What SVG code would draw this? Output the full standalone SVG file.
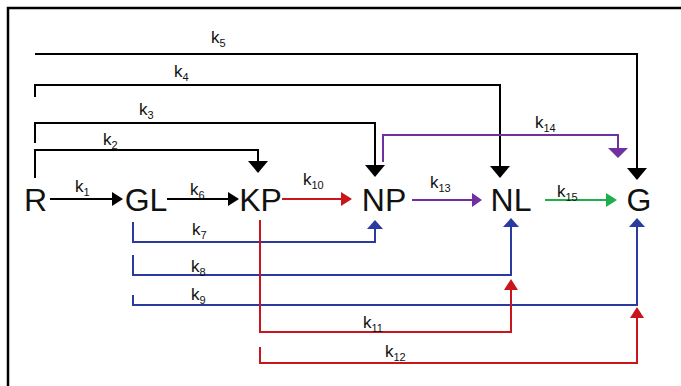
<svg xmlns="http://www.w3.org/2000/svg" width="681" height="386" viewBox="0 0 681 386">
<style>
.node{font-family:"Liberation Sans",Arial,sans-serif;font-size:32px;fill:#111;text-anchor:middle}
.lbl{font-family:"Liberation Sans",Arial,sans-serif;font-size:17px;fill:#111}
.sub{font-size:11px}
.c{fill:none;stroke-width:2}
.bk{stroke:#000}.rd{stroke:#c8161c}.bl{stroke:#2b3a9e}.pu{stroke:#7030a0}.gr{stroke:#1eae4e}
</style>
<defs>
<marker id="aBd" markerUnits="userSpaceOnUse" markerWidth="12" markerHeight="20" refX="8" refY="10" orient="auto"><path d="M0,0 L12,10 L0,20 z" fill="#000"/></marker>
<marker id="aBh" markerUnits="userSpaceOnUse" markerWidth="11" markerHeight="14" refX="7" refY="7" orient="auto"><path d="M0,0 L11,7 L0,14 z" fill="#000"/></marker>
<marker id="aR" markerUnits="userSpaceOnUse" markerWidth="11" markerHeight="14" refX="7" refY="7" orient="auto"><path d="M0,0 L11,7 L0,14 z" fill="#c8161c"/></marker>
<marker id="aBl" markerUnits="userSpaceOnUse" markerWidth="9" markerHeight="16" refX="5" refY="8" orient="auto"><path d="M0,0 L9,8 L0,16 z" fill="#2b3a9e"/></marker>
<marker id="aP" markerUnits="userSpaceOnUse" markerWidth="10" markerHeight="14" refX="6" refY="7" orient="auto"><path d="M0,0 L10,7 L0,14 z" fill="#7030a0"/></marker>
<marker id="aPd" markerUnits="userSpaceOnUse" markerWidth="10" markerHeight="20" refX="6" refY="10" orient="auto"><path d="M0,0 L10,10 L0,20 z" fill="#7030a0"/></marker>
<marker id="aG" markerUnits="userSpaceOnUse" markerWidth="11" markerHeight="14" refX="7" refY="7" orient="auto"><path d="M0,0 L11,7 L0,14 z" fill="#1eae4e"/></marker>
</defs>
<g id="frame"><path d="M8,386 V8 H681" fill="none" stroke="#000" stroke-width="2.5"/></g>
<g id="connectors">
<path class="c bk" d="M35,54 H637 V176" marker-end="url(#aBd)"/>
<path class="c bk" d="M35,97 V85 H500 V174" marker-end="url(#aBd)"/>
<path class="c bk" d="M35,143 V123 H375 V173" marker-end="url(#aBd)"/>
<path class="c bk" d="M35,178 V150 H258 V169" marker-end="url(#aBd)"/>
<path class="c bk" d="M50,199 H119" marker-end="url(#aBh)"/>
<path class="c bk" d="M167,199 H235" marker-end="url(#aBh)"/>
<path class="c rd" d="M282,199 H348" marker-end="url(#aR)"/>
<path class="c bl" d="M133,222 V242 H375 V224" marker-end="url(#aBl)"/>
<path class="c bl" d="M133,255 V275 H511 V222" marker-end="url(#aBl)"/>
<path class="c bl" d="M133,295 V305 H637 V222" marker-end="url(#aBl)"/>
<path class="c rd" d="M260,220 V332 H511 V283" marker-end="url(#aR)"/>
<path class="c rd" d="M260,347 V363 H637 V311" marker-end="url(#aR)"/>
<path class="c pu" d="M412,200 H478" marker-end="url(#aP)"/>
<path class="c pu" d="M383,162 V135 H618 V154" marker-end="url(#aPd)"/>
<path class="c gr" d="M545,200 H613" marker-end="url(#aG)"/>
</g>
<g id="labels">
<text class="lbl" x="211" y="43">k<tspan class="sub" dy="4">5</tspan></text>
<text class="lbl" x="174" y="77">k<tspan class="sub" dy="4">4</tspan></text>
<text class="lbl" x="139" y="115">k<tspan class="sub" dy="4">3</tspan></text>
<text class="lbl" x="103" y="145">k<tspan class="sub" dy="4">2</tspan></text>
<text class="lbl" x="75" y="192">k<tspan class="sub" dy="4">1</tspan></text>
<text class="lbl" x="190" y="195">k<tspan class="sub" dy="4">6</tspan></text>
<text class="lbl" x="192" y="235">k<tspan class="sub" dy="4">7</tspan></text>
<text class="lbl" x="191" y="272">k<tspan class="sub" dy="4">8</tspan></text>
<text class="lbl" x="191" y="300">k<tspan class="sub" dy="4">9</tspan></text>
<text class="lbl" x="303" y="185">k<tspan class="sub" dy="4">10</tspan></text>
<text class="lbl" x="363" y="328">k<tspan class="sub" dy="4">11</tspan></text>
<text class="lbl" x="385" y="357">k<tspan class="sub" dy="4">12</tspan></text>
<text class="lbl" x="430" y="188">k<tspan class="sub" dy="4">13</tspan></text>
<text class="lbl" x="535" y="128">k<tspan class="sub" dy="4">14</tspan></text>
<text class="lbl" x="557" y="197">k<tspan class="sub" dy="4">15</tspan></text>
</g>
<g id="node-R"><text class="node" x="35.5" y="211">R</text></g>
<g id="node-GL"><text class="node" x="146" y="211">GL</text></g>
<g id="node-KP"><text class="node" x="260.5" y="211">KP</text></g>
<g id="node-NP"><text class="node" x="384" y="211">NP</text></g>
<g id="node-NL"><text class="node" x="511" y="211">NL</text></g>
<g id="node-G"><text class="node" x="639" y="211">G</text></g>
</svg>
